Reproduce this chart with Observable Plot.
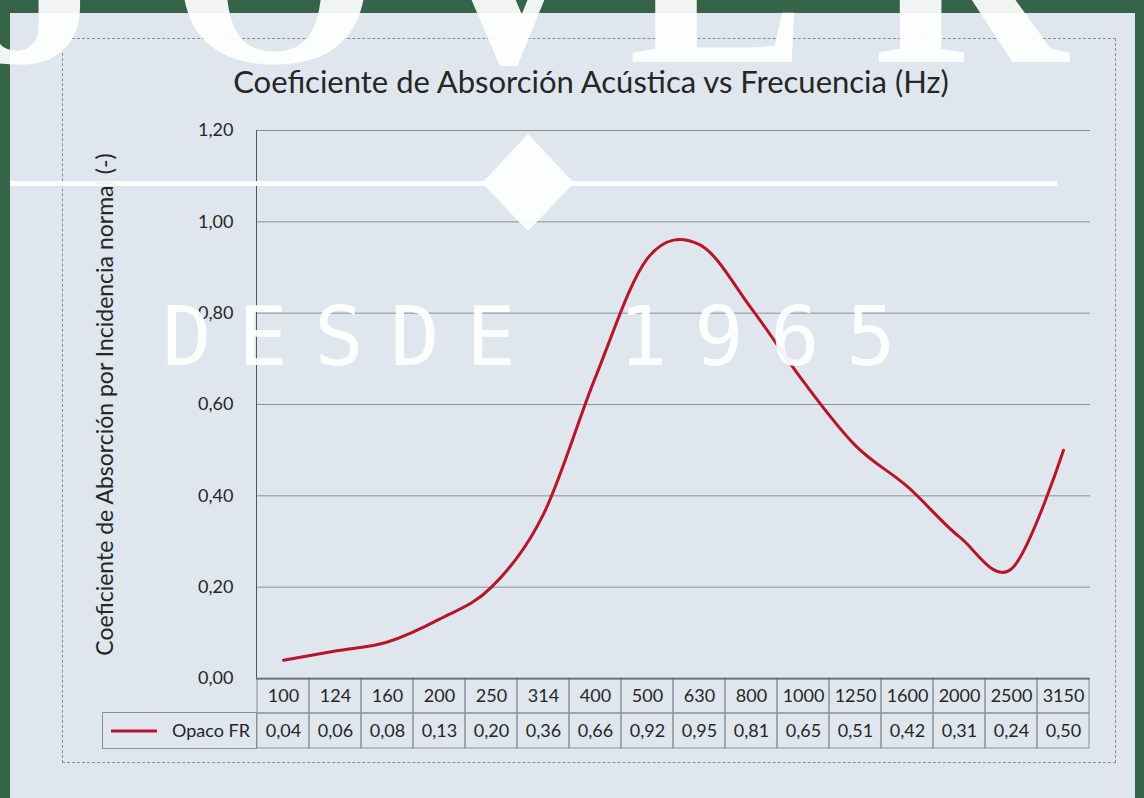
<!DOCTYPE html>
<html><head><meta charset="utf-8">
<script src="https://cdn.jsdelivr.net/npm/d3@7"></script>
<script src="https://cdn.jsdelivr.net/npm/@observablehq/plot@0.6"></script>
<style>
html,body{margin:0;padding:0;background:#356449;}
#page{position:relative;width:1144px;height:798px;overflow:hidden;background:#356449;font-family:Lato,sans-serif;color:#262626;}
#panel{position:absolute;left:10px;top:13px;width:1125px;height:785px;background:#dfe6ee;}
#frame{position:absolute;left:62px;top:38px;width:1052px;height:723px;border:1px dashed #8a8f96;}
#title{position:absolute;left:0;top:64px;width:1182px;text-align:center;font-size:31px;line-height:34px;color:#262626;}
#chart{position:absolute;left:0;top:100px;}
#table{position:absolute;left:0;top:677px;}
#legend{position:absolute;left:102px;top:712px;width:153px;height:35px;border:1px solid #8c9096;font-size:18px;line-height:35px;}
#legend svg{position:absolute;left:6px;top:0;}
#legend span{position:absolute;right:6px;top:0;}
#wm{position:absolute;left:0;top:0;pointer-events:none;}
</style></head>
<body><div id="page">
<div id="panel"></div>
<div id="frame"></div>
<div id="title">Coeficiente de Absorción Acústica vs Frecuencia (Hz)</div>
<div id="chart"></div>
<div id="table"></div>
<div id="legend"><svg width="50" height="35"><line x1="2" x2="48" y1="18" y2="18" stroke="#b8142c" stroke-width="3"/></svg><span id="legendText"></span></div>
<svg id="wm" width="1144" height="798"></svg>
</div>
<script>
// ---- data ----
const freqs = ["100","124","160","200","250","314","400","500","630","800","1000","1250","1600","2000","2500","3150"];
const values = [0.04,0.06,0.08,0.13,0.20,0.36,0.66,0.92,0.95,0.81,0.65,0.51,0.42,0.31,0.24,0.50];
const yTicks = [0,0.2,0.4,0.6,0.8,1.0,1.2];
const seriesName = "Opaco FR";
const yLabel = "Coeficiente de Absorción por Incidencia normal (-)";
const rows = ["freq","value"];

const data = freqs.map((f,i)=>({freq:f, value:values[i]}));
const fmt = d => d.toFixed(2).replace(".", ",");
const lineColor = "#b8142c";
const gridColor = "#8c9096";
document.getElementById("legendText").textContent = seriesName;

const chart = Plot.plot({
  width:1144, height:590, marginTop:30, marginBottom:12, marginLeft:256, marginRight:54,
  style:{background:"transparent", fontFamily:"Lato, sans-serif", fontSize:"18px", color:"#262626"},
  x:{type:"point", domain:freqs, padding:0.5, axis:null},
  y:{domain:[0,1.2]},
  marks:[
    Plot.gridY(yTicks, {stroke:gridColor, strokeOpacity:1, strokeWidth:1}),
    Plot.frame({anchor:"left", stroke:"#555"}),
    Plot.axisY(yTicks, {tickSize:0, tickPadding:23, tickFormat:fmt, fontSize:18, label:null}),
    Plot.axisY({ticks:[], tickSize:0, fontSize:23,
      label:yLabel, labelAnchor:"center", labelArrow:"none", labelOffset:160}),
    Plot.line(data, {x:"freq", y:"value", stroke:lineColor, strokeWidth:3, curve:"cardinal"})
  ]
});
document.getElementById("chart").append(chart);

const table = Plot.plot({
  width:1144, height:72, marginTop:1, marginBottom:1, marginLeft:256, marginRight:54,
  style:{background:"transparent", fontFamily:"Lato, sans-serif", fontSize:"18px", color:"#262626"},
  x:{type:"band", domain:freqs, padding:0, axis:null},
  y:{type:"band", domain:rows, padding:0, axis:null},
  marks:[
    Plot.cell(data, {x:"freq", y:()=>"freq", fill:"none", stroke:gridColor}),
    Plot.cell(data, {x:"freq", y:()=>"value", fill:"none", stroke:gridColor}),
    Plot.ruleY(["freq"], {stroke:"#555", dy:-17}),
    Plot.text(data, {x:"freq", y:()=>"freq", text:"freq", fontSize:18, fill:"#262626"}),
    Plot.text(data, {x:"freq", y:()=>"value", text:d=>fmt(d.value), fontSize:18, fill:"#262626"})
  ]
});
document.getElementById("table").append(table);

// ---- watermark (decorative overlay) ----
const wm = d3.select("#wm").append("g").attr("fill","#ffffff").attr("opacity",0.93);
const wmLetters = ["J","O","V","E","R"];
const wmX = [40,274,508,718,970];
wm.selectAll("text.big").data(wmLetters).join("text").attr("class","big")
  .attr("x",(d,i)=>wmX[i]).attr("y",62).attr("text-anchor","middle")
  .attr("font-family","Liberation Serif, DejaVu Serif, serif").attr("font-weight","bold").attr("font-size",270)
  .text(d=>d);
wm.append("rect").attr("x",10).attr("y",181).attr("width",1047).attr("height",5);
wm.append("path").attr("d","M528,134 L574,183 L528,231 L482,183 Z");
const wmSmall = "DESDE 1965".split("");
wm.selectAll("text.small").data(wmSmall).join("text").attr("class","small")
  .attr("x",(d,i)=>187+i*76).attr("y",365).attr("text-anchor","middle")
  .attr("font-family","DejaVu Sans Mono, monospace").attr("font-size",82)
  .text(d=>d);
</script>
</body></html>
